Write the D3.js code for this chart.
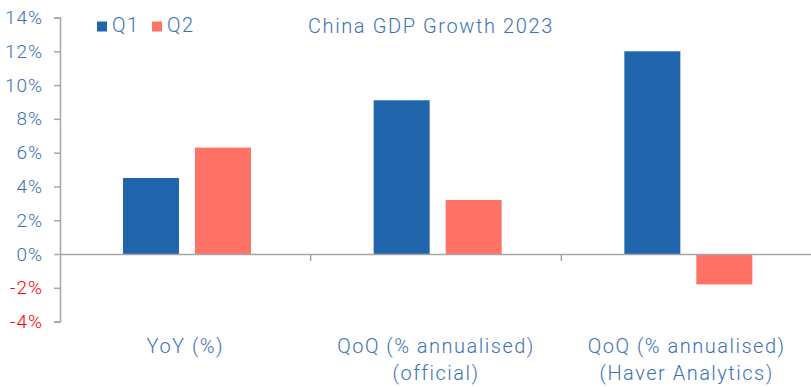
<!DOCTYPE html>
<html>
<head>
<meta charset="utf-8">
<script src="https://cdn.jsdelivr.net/npm/d3@7"></script>
<style>
  body { margin: 0; background: #fff; }
  svg text { font-family: Roboto, "Noto Sans", sans-serif; font-weight: 300; }
</style>
</head>
<body>
<div id="chart"></div>
<script>
// data
var categories = [["YoY (%)"], ["QoQ (% annualised)", "(official)"], ["QoQ (% annualised)", "(Haver Analytics)"]];
var seriesNames = ["Q1", "Q2"];
var q1 = [4.5, 9.1, 12.0];
var q2 = [6.3, 3.2, -1.8];
var yTicks = [-4, -2, 0, 2, 4, 6, 8, 10, 12, 14];
var title = "China GDP Growth 2023";

var colors = {Q1: "#2166ac", Q2: "#ff7366"};
var textBlue = "#3a72b5";
var axisGrey = "#a6a6a6";

var W = 811, H = 387;
var margin = {top: 17.5, right: 0, bottom: 65, left: 60};
var w = 812 - margin.left, h = 321.6 - margin.top;

var data = categories.map(function(c, i) {
  return {cat: i, Q1: q1[i], Q2: q2[i]};
});

var svg = d3.select("#chart").append("svg")
  .attr("width", W).attr("height", H)
  .append("g")
  .attr("transform", "translate(" + margin.left + "," + margin.top + ")");

/***Scales***/
var xScale = d3.scaleBand().domain([0, 1, 2]).range([0, w]);
var x1 = d3.scaleBand().domain(seriesNames).range([63, 63 + 128]).paddingInner(0.222);
var yScale = d3.scaleLinear().domain([-4, 14]).range([h, 0]);

/***Y axis***/
var yAxis = d3.axisLeft(yScale).tickValues(yTicks).tickSize(6).tickPadding(11)
  .tickFormat(function(d) { return d + "%"; });
var yg = svg.append("g").call(yAxis);
yg.select(".domain").attr("stroke", axisGrey).attr("stroke-width", 1.5);
yg.selectAll(".tick line").attr("stroke", axisGrey).attr("stroke-width", 1.5);
yg.selectAll(".tick text")
  .attr("font-size", 19)
  .attr("letter-spacing", 1)
  .attr("fill", function(d) { return d < 0 ? "#ff0000" : textBlue; });

/***Bars***/
var groups = svg.selectAll(".grp").data(data).enter().append("g")
  .attr("transform", function(d) { return "translate(" + xScale(d.cat) + ",0)"; });
groups.selectAll("rect")
  .data(function(d) { return seriesNames.map(function(s) { return {s: s, v: d[s]}; }); })
  .enter().append("rect")
  .attr("x", function(d) { return x1(d.s); })
  .attr("width", x1.bandwidth())
  .attr("y", function(d) { return yScale(Math.max(0, d.v)); })
  .attr("height", function(d) { return Math.abs(yScale(d.v) - yScale(0)); })
  .attr("fill", function(d) { return colors[d.s]; });

/***X axis at zero***/
var xAxis = d3.axisBottom(xScale).tickSize(0).tickFormat("");
var xg = svg.append("g").attr("transform", "translate(0," + yScale(0) + ")").call(xAxis);
xg.select(".domain").attr("stroke", axisGrey).attr("stroke-width", 1.5);
xg.selectAll(".tick").remove();
// category separators
xg.selectAll(".sep").data([1, 2]).enter().append("line")
  .attr("x1", function(d) { return xScale(d); })
  .attr("x2", function(d) { return xScale(d); })
  .attr("y1", 0).attr("y2", 7)
  .attr("stroke", axisGrey).attr("stroke-width", 1.5);

/***Category labels***/
var labels = svg.selectAll(".catlab").data(categories).enter().append("text")
  .attr("text-anchor", "middle")
  .attr("font-size", 20)
  .attr("letter-spacing", 1.5)
  .attr("fill", textBlue)
  .attr("transform", function(d, i) {
    return "translate(" + (xScale(i) + xScale.bandwidth() / 2) + "," + (yScale(-4) + 31.5) + ")";
  });
labels.selectAll("tspan").data(function(d) { return d; }).enter().append("tspan")
  .attr("x", 0).attr("dy", function(d, i) { return i === 0 ? 0 : 27; })
  .text(function(d) { return d; });

/***Legend***/
var legend = svg.selectAll(".leg").data(seriesNames).enter().append("g")
  .attr("transform", function(d, i) { return "translate(" + (37 + i * 55) + "," + 4 + ")"; });
legend.append("rect").attr("width", 10).attr("height", 10)
  .attr("fill", function(d) { return colors[d]; });
legend.append("text").attr("x", 15).attr("y", 10.5)
  .attr("font-size", 20).attr("letter-spacing", 1.5).attr("fill", textBlue)
  .text(function(d) { return d; });

/***Title***/
svg.append("text").attr("x", 248).attr("y", 15)
  .attr("font-size", 20).attr("letter-spacing", 1.6).attr("fill", textBlue)
  .text(title);
</script>
</body>
</html>
